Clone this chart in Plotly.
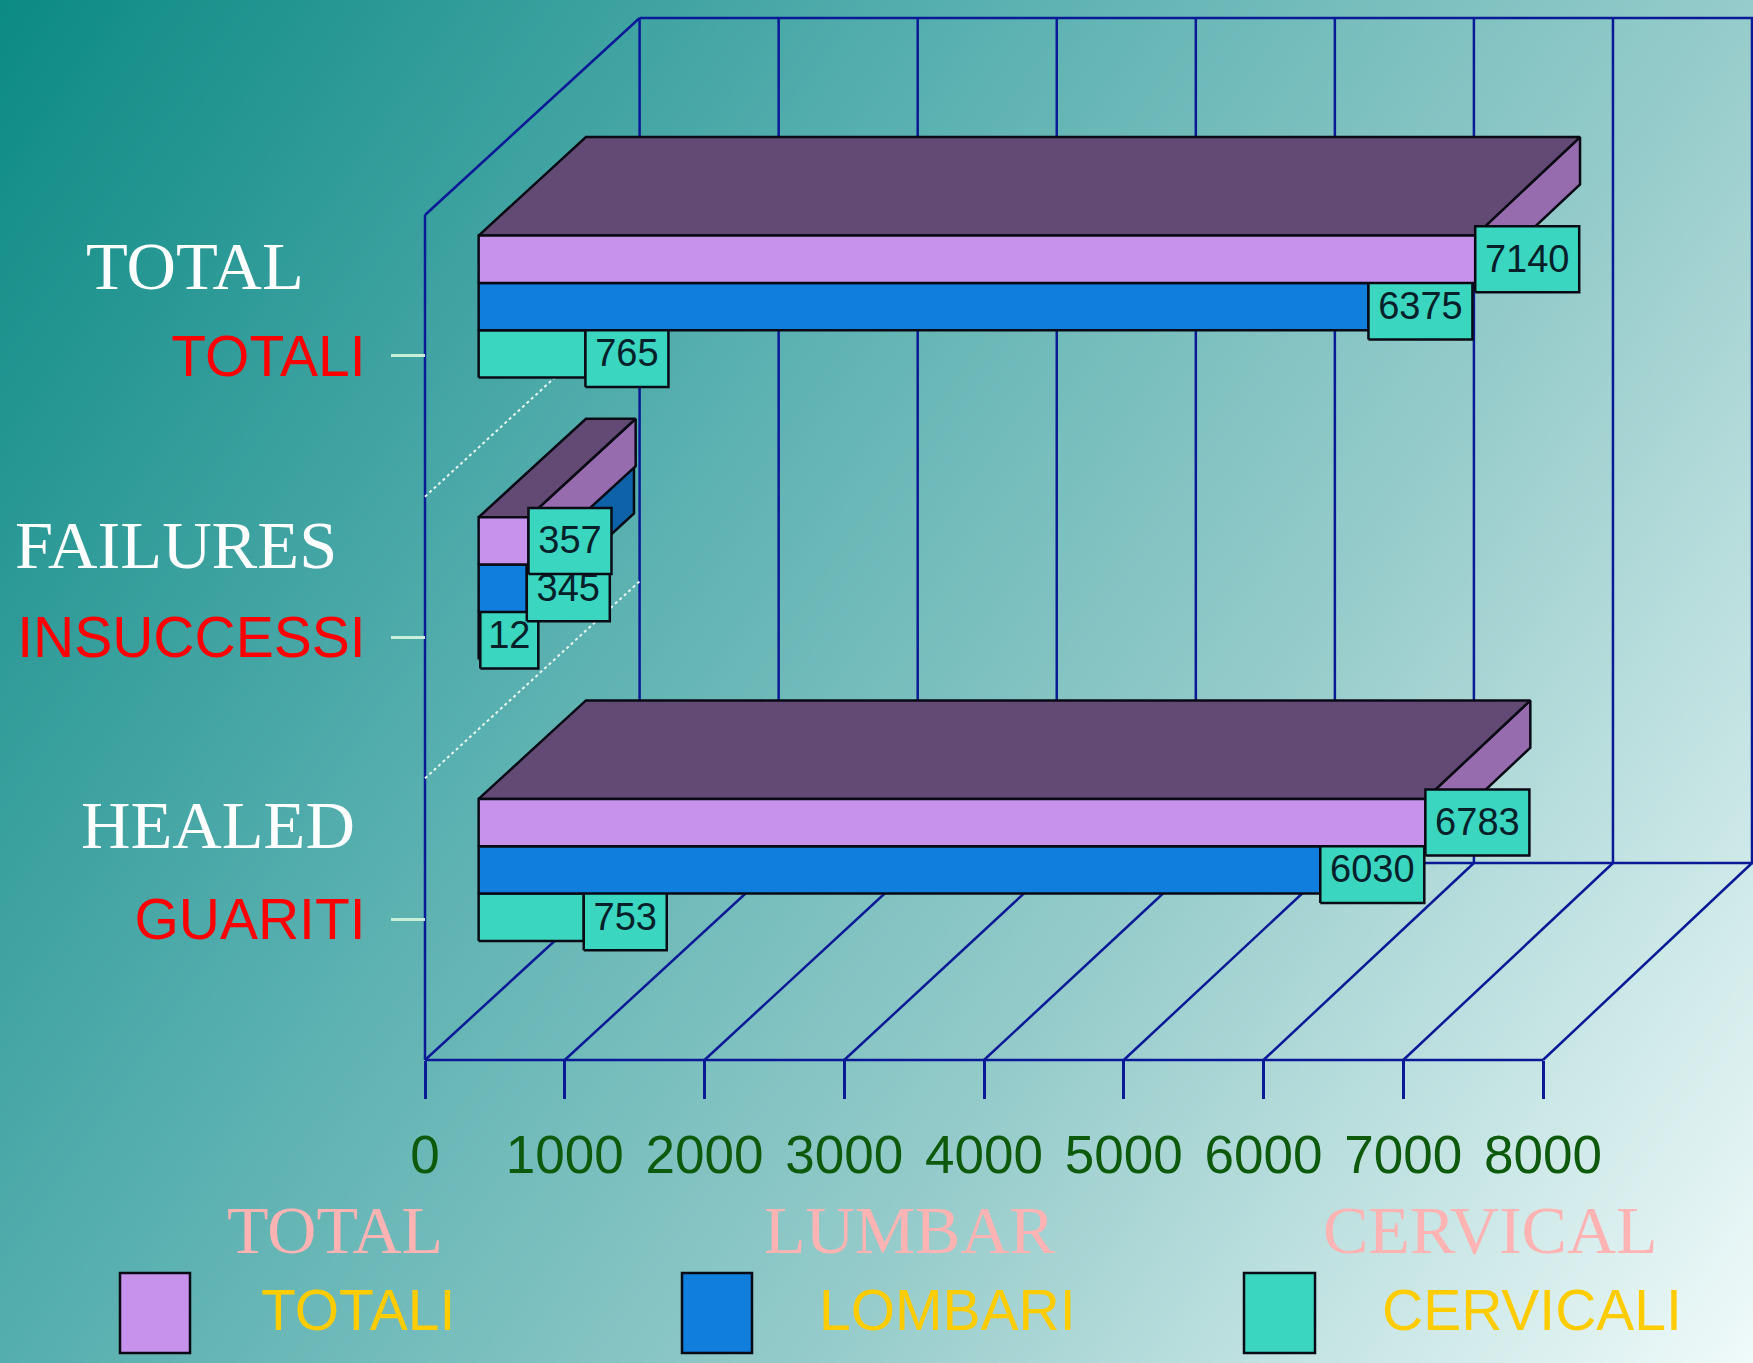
import numpy as np
import plotly.graph_objects as go

# ---- data ----
categories_en = ["HEALED", "FAILURES", "TOTAL"]
categories_it = ["GUARITI", "INSUCCESSI", "TOTALI"]
series_names_it = ["TOTALI", "LOMBARI", "CERVICALI"]
series_names_en = ["TOTAL", "LUMBAR", "CERVICAL"]
totali = [6783, 357, 7140]
lombari = [6030, 345, 6375]
cervicali = [753, 12, 765]
x_ticks = [0, 1000, 2000, 3000, 4000, 5000, 6000, 7000, 8000]

# ---- page / projection constants ----
W, H = 1753, 1363
PX_X0, PX_Y0 = 425.0, 1060.0
PX_PER_VAL = 0.13975
PX_PER_CAT = 281.67
DEPTH_PX_X, DEPTH_PX_Y = 214.6, 197.0
DEPTH_SHRINK = 0.005
DX = DEPTH_PX_X / PX_PER_VAL
DY = DEPTH_PX_Y / PX_PER_CAT
X_RANGE = [-PX_X0 / PX_PER_VAL, (W - PX_X0) / PX_PER_VAL]
Y_RANGE = [-(H - PX_Y0) / PX_PER_CAT, PX_Y0 / PX_PER_CAT]
D_FRONT, D_BACK = 0.25, 0.75
BAR_LOW, BAR_HIGH = 0.248, 0.752
NAVY = "#0a1a96"
C_TOTAL, C_LUMBAR, C_CERV = "#c792ec", "#0f7edc", "#3ad6c0"
C_TOP, C_SIDE_T, C_SIDE_L, C_SIDE_C = "#624a75", "#966cae", "#0d62a8", "#2a9a8a"


def P(v, y, d=0.0):
    return v * (1 - DEPTH_SHRINK * d) + d * DX, y + d * DY


def px(x):
    return x / W


def py(y):
    return 1 - y / H


fig = go.Figure()

# background gradient
gx = np.linspace(X_RANGE[0], X_RANGE[1], 80)
gy = np.linspace(Y_RANGE[0], Y_RANGE[1], 80)
pxx = PX_X0 + gx * PX_PER_VAL
pyy = PX_Y0 - gy * PX_PER_CAT
GZ = (0.0787 * pxx[None, :] + 0.0536 * pyy[:, None]) / (0.0787 * W + 0.0536 * H)
fig.add_trace(go.Heatmap(
    x=gx, y=gy, z=GZ, zmin=0, zmax=1, zsmooth="best", showscale=False, hoverinfo="skip",
    colorscale=[[0, "#0c8a84"], [0.346, "#55aeae"], [0.654, "#96cccb"], [1, "#f0fafa"]],
))


def line(xs, ys, color=NAVY, width=2.5, dash=None):
    fig.add_trace(go.Scatter(x=xs, y=ys, mode="lines", hoverinfo="skip", showlegend=False,
                             line=dict(color=color, width=width, dash=dash)))


def poly(pts, fill, lw=2.5):
    xs = [p[0] for p in pts] + [pts[0][0]]
    ys = [p[1] for p in pts] + [pts[0][1]]
    fig.add_trace(go.Scatter(x=xs, y=ys, mode="lines", fill="toself", fillcolor=fill,
                             hoverinfo="skip", showlegend=False,
                             line=dict(color="#0a0a14", width=lw)))


N = len(categories_en)
# walls + floor grid
for v in x_ticks:
    a, b = P(v, 0, 0), P(v, 0, 1)
    line([a[0], b[0]], [a[1], b[1]])
    c = P(v, N, 1)
    line([b[0], c[0]], [b[1], c[1]])
b0, b1 = P(0, 0, 1), P(x_ticks[-1] * 1.05, 0, 1)
line([b0[0], b1[0]], [b0[1], b1[1]])
t0, t1 = P(0, N, 1), P(x_ticks[-1] * 1.05, N, 1)
line([t0[0], t1[0]], [t0[1], t1[1]])
f0, f1 = P(0, N, 0), P(0, N, 1)
line([f0[0], f1[0]], [f0[1], f1[1]])
line([0, 0], [0, N])
line([0, x_ticks[-1]], [0, 0])
for k in range(1, N):
    a, b = P(0, k, 0), P(0, k, 1)
    line([a[0], b[0]], [a[1], b[1]], color="#e8f8f0", width=2, dash="dot")

# bars
BOX_H = 66 / PX_PER_CAT
TEXT_DROP = 3 / PX_PER_CAT
for i in range(N):
    vals = [cervicali[i], lombari[i], totali[i]]
    cols = [C_CERV, C_LUMBAR, C_TOTAL]
    sides = [C_SIDE_C, C_SIDE_L, C_SIDE_T]
    h = (BAR_HIGH - BAR_LOW) / 3
    # side faces, back to front
    for j in range(3):
        lo, hi = i + BAR_LOW + j * h, i + BAR_LOW + (j + 1) * h
        v = vals[j]
        poly([P(v, lo, D_FRONT), P(v, lo, D_BACK), P(v, hi, D_BACK), P(v, hi, D_FRONT)], sides[j])
    # top face
    hi = i + BAR_HIGH
    v = vals[2]
    poly([P(0, hi, D_FRONT), P(0, hi, D_BACK), P(v, hi, D_BACK), P(v, hi, D_FRONT)], C_TOP)
    # front faces with value boxes
    for j in range(3):
        lo, hi = i + BAR_LOW + j * h, i + BAR_LOW + (j + 1) * h
        v = vals[j]
        poly([P(0, lo, D_FRONT), P(v, lo, D_FRONT), P(v, hi, D_FRONT), P(0, hi, D_FRONT)], cols[j])
        label = str(v)
        bw = {2: 58, 3: 83, 4: 104}[len(label)] / PX_PER_VAL
        ex, cy = P(v, (lo + hi) / 2, D_FRONT)
        poly([(ex, cy - BOX_H / 2), (ex + bw, cy - BOX_H / 2), (ex + bw, cy + BOX_H / 2), (ex, cy + BOX_H / 2)], C_CERV)
        fig.add_trace(go.Scatter(x=[ex + bw / 2], y=[cy - TEXT_DROP], mode="text", text=[label], hoverinfo="skip",
                                 showlegend=False, textposition="middle center",
                                 textfont=dict(family="Liberation Sans", size=38, color="#06202a")))

# category labels (English, serif)
en_pos = [(218, 825), (176, 545), (195, 266)]
annotations = []
for name, (x, y) in zip(categories_en, en_pos):
    annotations.append(dict(text=name, x=px(x), y=py(y), xref="paper", yref="paper", showarrow=False,
                            xanchor="center", yanchor="middle",
                            font=dict(family="Liberation Serif", size=68.5, color="#ffffff")))

# legend
swatches = [(120, 190, C_TOTAL), (682, 752, C_LUMBAR), (1244, 1315, C_CERV)]
shapes = [dict(type="rect", xref="paper", yref="paper", x0=px(a), x1=px(b), y0=py(1353), y1=py(1273),
               fillcolor=c, line=dict(color="#0a0a14", width=2.5)) for a, b, c in swatches]
for name, x in zip(series_names_en, [335, 910, 1490]):
    annotations.append(dict(text=name, x=px(x), y=py(1230), xref="paper", yref="paper", showarrow=False,
                            xanchor="center", yanchor="middle",
                            font=dict(family="Liberation Serif", size=68, color="#ffb3b3")))
for name, x in zip(series_names_it, [358, 948, 1532]):
    annotations.append(dict(text=name, x=px(x), y=py(1310), xref="paper", yref="paper", showarrow=False,
                            xanchor="center", yanchor="middle",
                            font=dict(family="Liberation Sans", size=57, color="#ffcc00")))

fig.update_layout(
    width=W, height=H, margin=dict(l=0, r=0, t=0, b=0, pad=0),
    paper_bgcolor="#78b8b8", plot_bgcolor="rgba(0,0,0,0)", showlegend=False,
    annotations=annotations, shapes=shapes, hovermode=False,
    xaxis=dict(range=X_RANGE, domain=[0, 1], anchor="free", position=(H - PX_Y0) / H,
               tickmode="array", tickvals=x_ticks, ticktext=[str(t) for t in x_ticks],
               ticks="outside", ticklen=38, tickwidth=2.5, tickcolor=NAVY,
               tickfont=dict(family="Liberation Sans", size=53, color="#0d5a0d"),
               showgrid=False, zeroline=False, showline=False, ticklabelstandoff=10),
    yaxis=dict(range=Y_RANGE, domain=[0, 1], anchor="free", position=PX_X0 / W,
               tickmode="array", tickvals=[k + 0.5 for k in range(N)], ticktext=categories_it,
               ticks="outside", ticklen=34, tickwidth=3, tickcolor="#c8f0d8",
               tickfont=dict(family="Liberation Sans", size=57, color="#ff0000"),
               showgrid=False, zeroline=False, showline=False, ticklabelstandoff=14),
)

fig.write_html("out.html", post_script="document.body.style.margin='0';", config={"displayModeBar": False})
